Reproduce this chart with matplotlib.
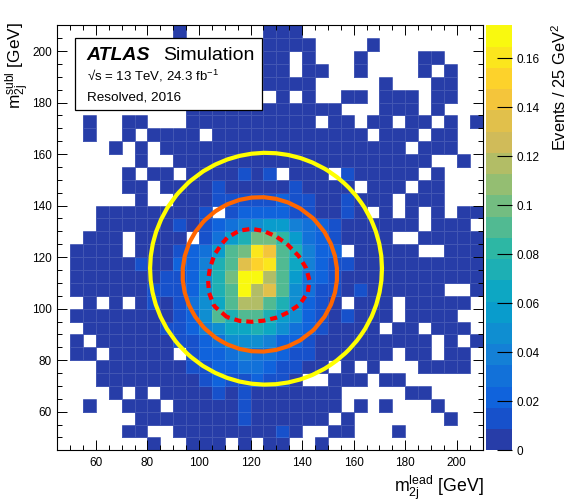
import numpy as np
import matplotlib
matplotlib.use("Agg")
import matplotlib.pyplot as plt
from matplotlib.colors import ListedColormap, BoundaryNorm
from matplotlib.patches import Rectangle
from matplotlib.ticker import MultipleLocator, FixedLocator

plt.rcParams['font.family'] = ['Liberation Sans', 'DejaVu Sans']
plt.rcParams['mathtext.fontset'] = 'custom'
plt.rcParams['mathtext.rm'] = 'Liberation Sans'
plt.rcParams['mathtext.it'] = 'Liberation Sans:italic'
plt.rcParams['mathtext.bf'] = 'Liberation Sans:bold'

# ---------------- data ----------------
x_edges = np.arange(45, 211, 5)          # m_2j^lead bin edges [GeV]
y_edges = np.arange(45, 211, 5)          # m_2j^subl bin edges [GeV]
z_max = 0.1735                           # colour-axis maximum
n_levels = 20                            # number of colour bands

# colour band read off each 5x5 GeV cell ('.' = empty, 0-9,a-j = band 0..19)
# rows listed from top (205-210 GeV) to bottom (45-50 GeV)
cell_bands = [
    "..... ....0 ..... .000. ..... ..... ...",
    "..... ..... ..... .0000 ....0 ..... ...",
    "..... ..... ..... .00.0 ...0. ...00 ...",
    "..... ..... ..... .00.0 0..0. ...0. 0..",
    "..... ..... ..... .0000 ..... 0...0 0..",
    "..... ..... ..... ..0.0 ..00. 000.0 0..",
    "..... ..... 00000 00000 00... 000.0 ...",
    "..0.. 00... 00000 00000 .00.0 0.00. 0.0",
    "..0.. 0.000 0.000 00000 0000. 000.0 0..",
    "....0 .0.00 00000 00000 00000 00.00 0..",
    "..... .0..0 00000 00000 00000 0000. .0.",
    "..... 0.00. 00001 01.00 0.100 000.0 ...",
    "..... 00.00 00100 00010 000.0 00.00 ...",
    "..... .0..0 00111 11211 00100 0.000 ...",
    "...00 00000 01.12 22211 0010. 0.0.0 .00",
    "...00 00001 01234 56643 21000 000.0 00.",
    "..000 .0000 .1368 bb963 21000 0..00 000",
    ".0000 .0001 236ab iga84 22.00 000.. 000",
    ".0000 01002 248af hia74 21100 00000 000",
    ".0000 00011 258bj jda63 21000 00000 000",
    ".0000 00111 258aj dfa53 11010 00000 ..0",
    "..0.0 .0101 357ad da852 10.00 0.000 00.",
    ".0000 00001 25a8a a8652 10100 0.000 0..",
    "..000 00011 24577 87532 10000 .00.0 00.",
    ".0.00 00001 12355 54221 00000 0000. 0.0",
    ".00.0 0000. 12234 33211 00000 0.00. 00.",
    "...00 00000 11223 32110 0.0.0 ...00 00.",
    "...00 00000 01211 2110. .000. 00... ...",
    "....0 .0.00 00101 00000 00... ..00. ...",
    "..0.. 000.0 00001 00000 00.0. 0...0 ...",
    "..... .0000 00001 00000 0.0.. ..... 0..",
    "..... 00..0 00000 0010. .00.. .0... ...",
    "..... ..0.. 000.0 .00.. 0.... ..... ...",
]

# region definitions (GeV)
cr_center = (126.0, 115.5)
cr_radius = 45.0
vr_center = (123.6, 113.3)
vr_radius = 30.0
sr_center = (120.0, 110.0)
sr_xhh = 1.6

colorbar_ticks = [0, 0.02, 0.04, 0.06, 0.08, 0.10, 0.12, 0.14, 0.16]
colorbar_ticklabels = ["0", "0.02", "0.04", "0.06", "0.08", "0.1", "0.12", "0.14", "0.16"]
x_major = [60, 80, 100, 120, 140, 160, 180, 200]
y_major = [60, 80, 100, 120, 140, 160, 180, 200]

# ---------------- build histogram ----------------
codes = "0123456789abcdefghij"
rows = [r.replace(" ", "") for r in cell_bands]
for i, r in enumerate(rows):
    assert len(r) == 33, (i, len(r))
band = np.full((33, 33), np.nan)
for i, r in enumerate(rows[::-1]):
    for j, ch in enumerate(r):
        if ch != '.':
            band[i, j] = codes.index(ch)
Z = np.ma.masked_invalid((band + 0.5) * z_max / n_levels)

# ROOT kBird palette, sampled like ROOT's COLZ with 20 contours
stops = [0.0, 0.125, 0.25, 0.375, 0.5, 0.625, 0.75, 0.875, 1.0]
red = [0.2082, 0.0592, 0.0780, 0.0232, 0.1802, 0.5301, 0.8186, 0.9956, 0.9764]
green = [0.1664, 0.3599, 0.5041, 0.6419, 0.7178, 0.7492, 0.7328, 0.7862, 0.9832]
blue = [0.5293, 0.8684, 0.8385, 0.7914, 0.6425, 0.4662, 0.3499, 0.1968, 0.0539]
cols = []
for i in range(n_levels):
    k = int((i + 0.99) * 255 / n_levels)
    p = min(k, 254) / 255.0
    cols.append((np.interp(p, stops, red), np.interp(p, stops, green), np.interp(p, stops, blue)))
cmap = ListedColormap(cols)
bounds = np.linspace(0, z_max, n_levels + 1)
norm = BoundaryNorm(bounds, n_levels)

W, H = 568, 501
fig = plt.figure(figsize=(W / 100, H / 100), dpi=100)
ax_l, ax_r, ax_t, ax_b = 57.3, 482.5, 25.3, 450.3
ax = fig.add_axes([ax_l / W, 1 - ax_b / H, (ax_r - ax_l) / W, (ax_b - ax_t) / H])

mesh = ax.pcolormesh(x_edges, y_edges, Z, cmap=cmap, norm=norm,
                     edgecolors=(1, 1, 1, 0.13), linewidth=0.6, zorder=1)
ax.set_xlim(45, 210)
ax.set_ylim(45, 210)

# region contours (evaluated on a coarse grid like ROOT's TF2)
gx = np.linspace(45, 210, 36)
gy = np.linspace(45, 210, 36)
GX, GY = np.meshgrid(gx, gy)
d_cr = np.hypot(GX - cr_center[0], GY - cr_center[1])
d_vr = np.hypot(GX - vr_center[0], GY - vr_center[1])
xhh = np.hypot((GX - sr_center[0]) / (0.1 * GX), (GY - sr_center[1]) / (0.1 * GY))
lw = 3.0
ax.contour(GX, GY, d_cr, levels=[cr_radius], colors=['#ffff00'], linewidths=lw, zorder=4)
ax.contour(GX, GY, d_vr, levels=[vr_radius], colors=['#ff6600'], linewidths=lw, zorder=4)
cs = ax.contour(GX, GY, xhh, levels=[sr_xhh], colors=['#ff0000'], linewidths=lw, zorder=5)
cs.set_linestyle((0, (1.7, 1.2)))

# axes styling
ax.xaxis.set_major_locator(FixedLocator(x_major))
ax.yaxis.set_major_locator(FixedLocator(y_major))
ax.xaxis.set_minor_locator(MultipleLocator(5))
ax.yaxis.set_minor_locator(MultipleLocator(5))
ax.tick_params(which='both', direction='in', top=True, right=True, width=0.7, color='black')
ax.tick_params(which='major', length=7.2)
ax.tick_params(which='minor', length=3.6)
ax.tick_params(axis='x', which='major', labelsize=8.5, pad=4.5)
ax.tick_params(axis='y', which='major', labelsize=8.5, pad=4)
for s in ax.spines.values():
    s.set_linewidth(0.8)

fig.text(484 / W, 1 - 492.5 / H, r'$\mathrm{m}_{\mathrm{2j}}^{\mathrm{lead}}$ [GeV]', fontsize=12.8,
         ha='right', va='baseline')
fig.text(22 / W, 1 - 22 / H, r'$\mathrm{m}_{\mathrm{2j}}^{\mathrm{subl}}$ [GeV]', fontsize=12.4,
         ha='right', va='baseline', rotation=90, rotation_mode='anchor')

# ATLAS box
bx0 = (75.3 - ax_l) / (ax_r - ax_l)
bx1 = (261.7 - ax_l) / (ax_r - ax_l)
by1 = 1 - (38.3 - ax_t) / (ax_b - ax_t)
by0 = 1 - (110.0 - ax_t) / (ax_b - ax_t)
ax.add_patch(Rectangle((bx0, by0), bx1 - bx0, by1 - by0, transform=ax.transAxes,
                       facecolor='white', edgecolor='black', linewidth=0.9, zorder=10))
fig.text(86.7 / W, 1 - 60 / H, 'ATLAS', fontsize=14, fontweight='bold', fontstyle='italic',
         ha='left', va='baseline')
fig.text(163 / W, 1 - 60 / H, 'Simulation', fontsize=14, ha='left', va='baseline')
fig.text(86.7 / W, 1 - 81 / H, '\u221as = 13 TeV, 24.3 fb$^{\\mathrm{-1}}$', fontsize=9.5,
         ha='left', va='baseline')
fig.text(86.7 / W, 1 - 100.5 / H, 'Resolved, 2016', fontsize=9.7, ha='left', va='baseline')

# colour bar
cax = fig.add_axes([485.7 / W, 1 - ax_b / H, 26 / W, (ax_b - ax_t) / H])
cb = fig.colorbar(mesh, cax=cax, boundaries=bounds, spacing='proportional')
cb.outline.set_visible(False)
cb.set_ticks(colorbar_ticks)
cb.set_ticklabels(colorbar_ticklabels)
cax.minorticks_off()
cax.tick_params(direction='in', length=11, width=0.8, color='black', labelsize=8.5, pad=3.5)
fig.text(566.5 / W, 1 - 24 / H, r'Events / 25 GeV$^{\mathrm{2}}$', fontsize=11.8,
         ha='right', va='baseline', rotation=90, rotation_mode='anchor')

fig.savefig('out.png', dpi=100)
